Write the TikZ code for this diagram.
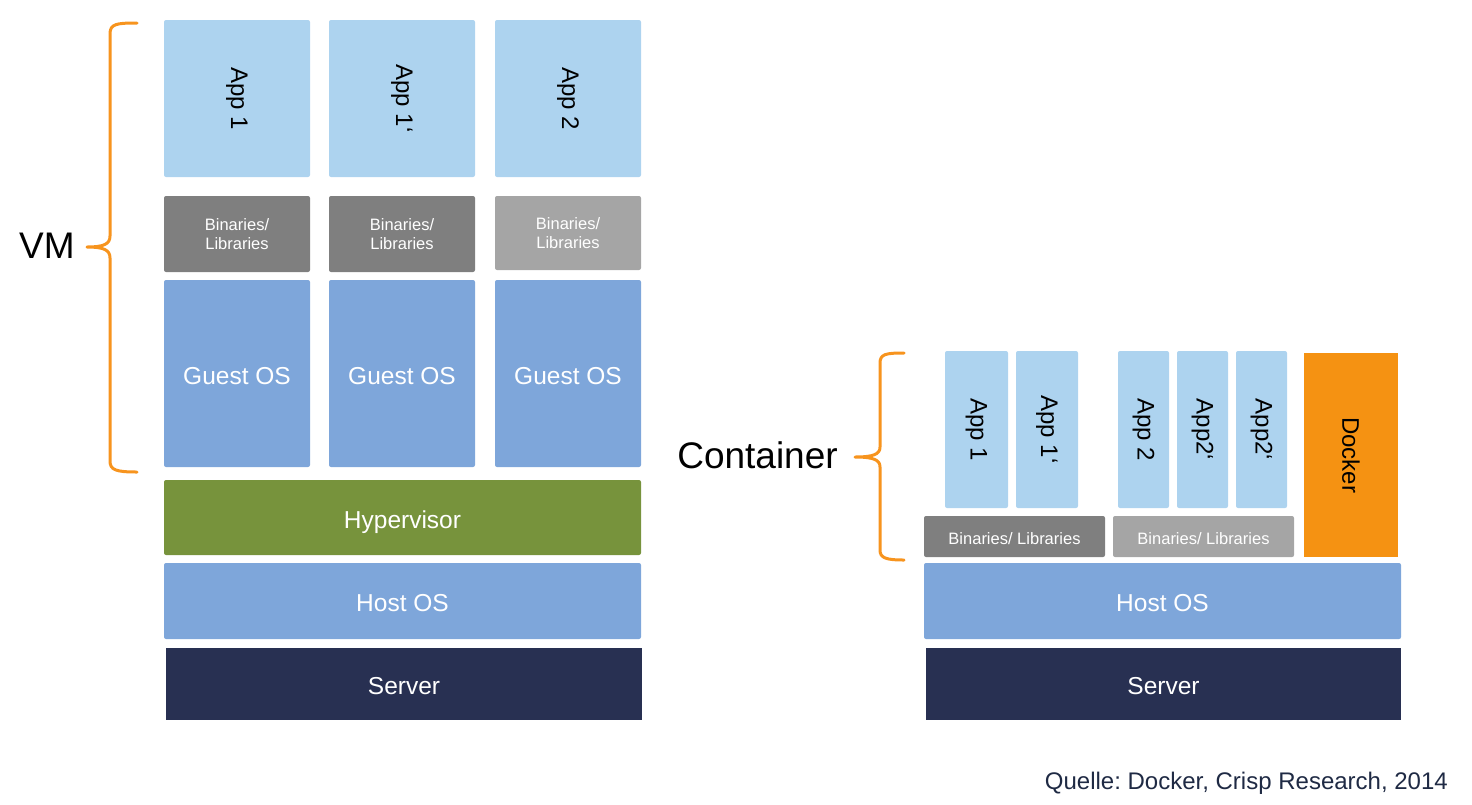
\documentclass[tikz,border=0pt]{standalone}
\usepackage{fontspec}
\setmainfont{Liberation Sans}
\frenchspacing
\begin{document}
\begin{tikzpicture}[x=1pt,y=-1pt,
  blk/.style={draw=none, rounded corners=2pt, inner sep=0pt, align=center, text=white},
  app/.style={blk, fill=appblue, text=black, rotate=-90, font=\fontsize{24}{28}\selectfont},
  binD/.style={blk, fill=binDark, font=\fontsize{16.5}{19}\selectfont},
  binL/.style={blk, fill=binLight, font=\fontsize{16.5}{19}\selectfont},
  oneline/.style={text height=15.6pt, text depth=0pt},
  big/.style={blk, font=\fontsize{24.5}{28}\selectfont, text height=21.5pt, text depth=0pt},
  brace/.style={draw=braceorange, line width=3pt, line cap=round, line join=round},
  lbl/.style={inner sep=0pt, anchor=base, font=\fontsize{37}{42}\selectfont}]
\definecolor{appblue}{HTML}{ADD3EF}
\definecolor{guestblue}{HTML}{7EA6DA}
\definecolor{binDark}{HTML}{7F7F7F}
\definecolor{binLight}{HTML}{A5A5A5}
\definecolor{hypgreen}{HTML}{77933C}
\definecolor{servernavy}{HTML}{283052}
\definecolor{dockerorange}{HTML}{F59212}
\definecolor{braceorange}{HTML}{F7941E}
\definecolor{srcnavy}{HTML}{1F2A44}
\useasboundingbox (0,0) rectangle (1472,804);
% ---- VM stack ----
\node[app, minimum width=157pt, minimum height=146pt] (va1) at (237,98.5) {App 1};
\node[app, minimum width=157pt, minimum height=146pt] (va2) at (402,98.5) {App 1‘};
\node[app, minimum width=157pt, minimum height=146pt] (va3) at (568,98.5) {App 2};
\node[binD, minimum width=146pt, minimum height=76pt] (vb1) at (237,234) {Binaries/\\Libraries};
\node[binD, minimum width=146pt, minimum height=76pt] (vb2) at (402,234) {Binaries/\\Libraries};
\node[binL, minimum width=146pt, minimum height=74pt] (vb3) at (568,233) {Binaries/\\Libraries};
\node[big, fill=guestblue, minimum width=146pt, minimum height=187pt] (vg1) at (237,373.5) {Guest OS};
\node[big, fill=guestblue, minimum width=146pt, minimum height=187pt] (vg2) at (402,373.5) {Guest OS};
\node[big, fill=guestblue, minimum width=146pt, minimum height=187pt] (vg3) at (568,373.5) {Guest OS};
\node[big, fill=hypgreen, minimum width=477pt, minimum height=75pt] (hyp) at (402.5,517.5) {Hypervisor};
\node[big, fill=guestblue, minimum width=477pt, minimum height=76pt] (vhost) at (402.5,601) {Host OS};
\node[big, fill=servernavy, rounded corners=0pt, minimum width=476pt, minimum height=72pt] (vserver) at (404,684) {Server};
% ---- Container stack ----
\node[app, minimum width=157pt, minimum height=63pt] (ca1) at (976.5,429.5) {App 1};
\node[app, minimum width=157pt, minimum height=62pt] (ca2) at (1047,429.5) {App 1‘};
\node[app, minimum width=157pt, minimum height=51pt] (ca3) at (1143.5,429.5) {App 2};
\node[app, minimum width=157pt, minimum height=51pt] (ca4) at (1202.5,429.5) {App2‘};
\node[app, minimum width=157pt, minimum height=51pt] (ca5) at (1261.5,429.5) {App2‘};
\node[app, fill=dockerorange, rounded corners=0pt, minimum width=204pt, minimum height=94pt] (docker) at (1351,455) {Docker};
\node[binD, oneline, minimum width=181pt, minimum height=41pt] (cb1) at (1014.5,536.5) {Binaries/ Libraries};
\node[binL, oneline, minimum width=181pt, minimum height=41pt] (cb2) at (1203.5,536.5) {Binaries/ Libraries};
\node[big, fill=guestblue, minimum width=477pt, minimum height=76pt] (chost) at (1162.5,601) {Host OS};
\node[big, fill=servernavy, rounded corners=0pt, minimum width=475pt, minimum height=72pt] (cserver) at (1163.5,684) {Server};
% ---- labels and braces ----
\node[lbl] (vm) at (47,258) {VM};
\node[lbl] (cont) at (757.5,468) {Container};
\draw[brace] (137,23) .. controls (116,23) and (110,24) .. (110,34) -- (110,236)
  .. controls (110,244) and (104,247) .. (87,247)
  .. controls (104,247) and (110,250) .. (110,258) -- (110,461)
  .. controls (110,470) and (116,472) .. (137,472);
\draw[brace] (904,353) .. controls (886,353) and (880,354) .. (880,363) -- (880,447)
  .. controls (880,454) and (874,457) .. (855,457)
  .. controls (874,457) and (880,460) .. (880,467) -- (880,550)
  .. controls (880,558) and (886,560) .. (904,560);
\node[inner sep=0pt, anchor=base east, text=srcnavy, font=\fontsize{24}{28}\selectfont] (src) at (1448,789) {Quelle: Docker, Crisp Research, 2014};
\end{tikzpicture}
\end{document}
